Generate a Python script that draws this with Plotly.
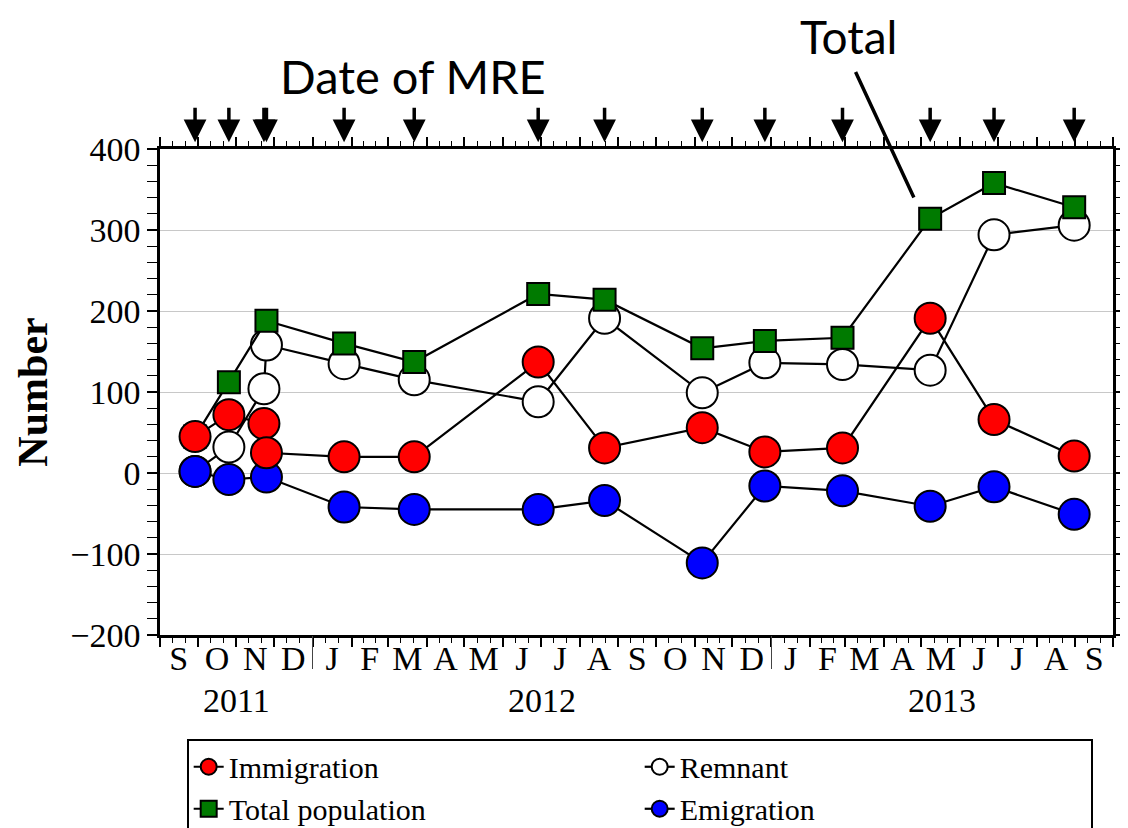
import plotly.graph_objects as go
import pandas as pd

# ---------------- data ----------------
sample_dates = ["2011-09-29", "2011-10-26", "2011-11-23", "2011-11-25", "2012-01-26",
                "2012-03-22", "2012-06-29", "2012-08-21", "2012-11-07", "2012-12-27",
                "2013-02-27", "2013-05-08", "2013-06-28", "2013-08-31"]

immigration_dates = sample_dates
immigration = [45, 72, 61, 25, 20, 20, 137, 31, 56, 26, 31, 191, 66, 21]

remnant_dates = sample_dates
remnant = [2, 32, 104, 158, 135, 115, 88, 191, 99, 136, 134, 127, 294, 306]

total_dates = [d for d in sample_dates if d != "2011-11-23"]
total = [45, 112, 188, 160, 137, 221, 214, 154, 163, 167, 314, 358, 328]

emigration_dates = [d for d in sample_dates if d != "2011-11-23"]
emigration = [2, -8, -5, -42, -45, -45, -34, -111, -16, -22, -41, -17, -51]

mre_dates = sample_dates  # dates of MRE (arrows)

month_letters = ["S", "O", "N", "D", "J", "F", "M", "A", "M", "J", "J", "A", "S",
                 "O", "N", "D", "J", "F", "M", "A", "M", "J", "J", "A", "S"]
year_labels = ["2011", "2012", "2013"]
y_ticks = [-200, -100, 0, 100, 200, 300, 400]

x_start = pd.Timestamp("2011-09-01")
x_end = pd.Timestamp("2013-10-01")

# ---------------- derived tick positions ----------------
month_starts = pd.date_range(x_start, x_end, freq="MS")
mid_months = [a + (b - a) / 2 for a, b in zip(month_starts[:-1], month_starts[1:])]
thirds = []
for a, b in zip(month_starts[:-1], month_starts[1:]):
    thirds.append(a + (b - a) / 3)
    thirds.append(a + 2 * (b - a) / 3)
year_starts = [pd.Timestamp(f"{y}-01-01") for y in (2012, 2013)]
bounds = [x_start] + year_starts + [x_end]
year_centers = [a + (b - a) / 2 for a, b in zip(bounds[:-1], bounds[1:])]

def fmt(ts):
    return [pd.Timestamp(t).strftime("%Y-%m-%d %H:%M:%S") for t in ts]

# ---------------- figure ----------------
fig = go.Figure()

line_style = dict(color="black", width=2.2)

fig.add_trace(go.Scatter(
    x=remnant_dates, y=remnant, name="Remnant", mode="lines+markers",
    line=line_style, legendrank=2,
    marker=dict(symbol="circle", size=31, color="white", line=dict(color="black", width=2))))
fig.add_trace(go.Scatter(
    x=total_dates, y=total, name="Total population", mode="lines+markers",
    line=line_style, legendrank=3,
    marker=dict(symbol="square", size=22, color="#007a00", line=dict(color="black", width=2))))
fig.add_trace(go.Scatter(
    x=emigration_dates, y=emigration, name="Emigration", mode="lines+markers",
    line=line_style, legendrank=4,
    marker=dict(symbol="circle", size=31, color="#0000ff", line=dict(color="black", width=2))))
fig.add_trace(go.Scatter(
    x=immigration_dates, y=immigration, name="Immigration", mode="lines+markers",
    line=line_style, legendrank=1,
    marker=dict(symbol="circle", size=31, color="#ff0000", line=dict(color="black", width=2))))
# helper (empty) traces so the overlaying label / year-tick axes are drawn
fig.add_trace(go.Scatter(x=[], y=[], xaxis="x2", yaxis="y", showlegend=False, hoverinfo="skip"))
fig.add_trace(go.Scatter(x=[], y=[], xaxis="x3", yaxis="y", showlegend=False, hoverinfo="skip"))

annotations = []
for d in mre_dates:
    annotations.append(dict(x=d, y=1.0138, xref="x", yref="paper", text="",
                            showarrow=True, arrowhead=2, arrowsize=1.3, arrowwidth=3.5,
                            arrowcolor="black", ax=0, ay=-36, standoff=0))
for lab, c in zip(year_labels, year_centers):
    annotations.append(dict(x=c.strftime("%Y-%m-%d %H:%M:%S"), y=-0.134, xref="x", yref="paper",
                            text=lab, showarrow=False, xanchor="center", yanchor="middle",
                            font=dict(size=34, family="Liberation Serif", color="black")))
annotations.append(dict(x=0.266, y=1.15, xref="paper", yref="paper", text="Date of MRE",
                        showarrow=False, xanchor="center", yanchor="middle",
                        font=dict(size=47, family="Lato", color="black")))
annotations.append(dict(x=0.722, y=1.232, xref="paper", yref="paper", text="Total",
                        showarrow=False, xanchor="center", yanchor="middle", height=46,
                        font=dict(size=46, family="Lato", color="black")))
annotations.append(dict(x="2013-04-25", y=340, xref="x", yref="y", text="",
                        showarrow=True, arrowhead=0, arrowwidth=3.5, arrowcolor="black",
                        ax=-59, ay=-127, standoff=0))

fig.update_layout(
    width=1120, height=820,
    margin=dict(l=152, r=15, t=141, b=193, autoexpand=False),
    paper_bgcolor="white", plot_bgcolor="white",
    font=dict(family="Liberation Serif", color="black"),
    showlegend=True,
    legend=dict(orientation="h", x=0.028, y=-0.2135, xanchor="left", yanchor="top",
                bordercolor="black", borderwidth=2, bgcolor="white",
                font=dict(size=30, family="Liberation Serif", color="black"),
                entrywidth=406, entrywidthmode="pixels"),
    annotations=annotations,
    xaxis=dict(type="date", range=fmt([x_start, x_end]),
               tickmode="array", tickvals=fmt(month_starts), ticktext=[""] * len(month_starts),
               ticks="outside", ticklen=9, tickwidth=1.5, tickcolor="black",
               showline=True, linewidth=2.5, linecolor="black", mirror="allticks",
               showgrid=False, zeroline=False,
               minor=dict(tickmode="array", tickvals=fmt(thirds), ticks="outside",
                          ticklen=5, tickwidth=1.2, tickcolor="black", showgrid=False)),
    xaxis2=dict(type="date", range=fmt([x_start, x_end]), overlaying="x", anchor="y", side="bottom",
                tickmode="array", tickvals=fmt(mid_months), ticktext=month_letters,
                ticks="", showline=False, showgrid=False, zeroline=False,
                tickfont=dict(size=34, family="Liberation Serif", color="black")),
    xaxis3=dict(type="date", range=fmt([x_start, x_end]), overlaying="x", anchor="y", side="bottom",
                tickmode="array", tickvals=fmt(year_starts), ticktext=["", ""],
                ticks="outside", ticklen=33, tickwidth=1.2, tickcolor="#444444",
                showline=False, showgrid=False, zeroline=False),
    yaxis=dict(range=[-200, 400], tickmode="array", tickvals=y_ticks,
               ticks="outside", ticklen=10, tickwidth=1.5, tickcolor="black",
               showline=True, linewidth=2.5, linecolor="black", mirror="allticks",
               showgrid=True, gridcolor="#c8c8c8", gridwidth=1.2, zeroline=False,
               tickfont=dict(size=34, family="Liberation Serif", color="black"),
               minor=dict(dtick=20, ticks="outside", ticklen=5, tickwidth=1.2,
                          tickcolor="black", showgrid=False),
               title=dict(text="<b>Number</b>", standoff=10,
                          font=dict(size=42, family="Liberation Serif", color="black"))),
)

fig.write_html("out.html")
